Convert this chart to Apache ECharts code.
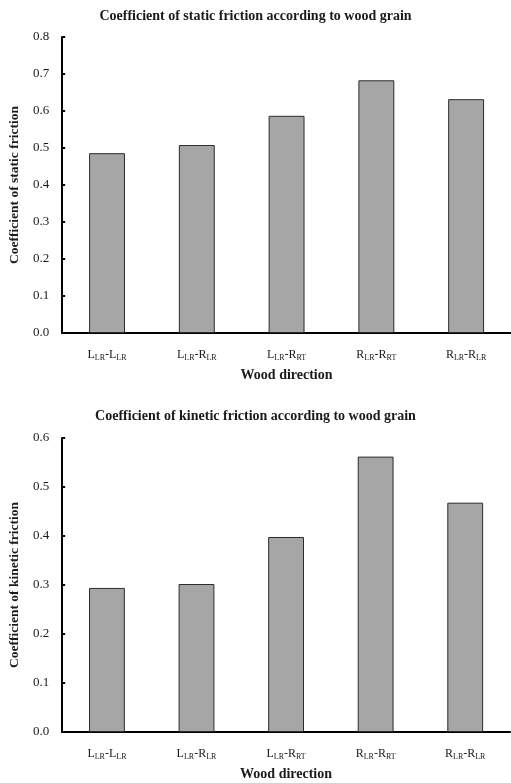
<!DOCTYPE html>
<html>
<head>
<meta charset="utf-8">
<script src="https://cdn.jsdelivr.net/npm/echarts@6/dist/echarts.min.js"></script>
<style>
html,body{margin:0;padding:0;background:#fff;}
#c{width:511px;height:783px;}
</style>
</head>
<body>
<div id="c"></div>
<script>
// Data
const categories = ['L{s|LR}-L{s|LR}', 'L{s|LR}-R{s|LR}', 'L{s|LR}-R{s|RT}', 'R{s|LR}-R{s|RT}', 'R{s|LR}-R{s|LR}'];
const staticFriction = [0.486, 0.508, 0.587, 0.683, 0.632];
const kineticFriction = [0.294, 0.302, 0.398, 0.562, 0.468];
const staticTicks = [0.0, 0.1, 0.2, 0.3, 0.4, 0.5, 0.6, 0.7, 0.8];
const kineticTicks = [0.0, 0.1, 0.2, 0.3, 0.4, 0.5, 0.6];
const titles = ['Coefficient of static friction according to wood grain', 'Coefficient of kinetic friction according to wood grain'];
const yNames = ['Coefficient of static friction', 'Coefficient of kinetic friction'];
const xName = 'Wood direction';

const FONT = '"Liberation Serif", "Times New Roman", serif';
const TXT = '#1a1a1a';

function xAxisCfg(gridIndex) {
  return {
    type: 'category', gridIndex: gridIndex, data: categories,
    name: xName, nameLocation: 'middle', nameGap: 35,
    nameTextStyle: {fontFamily: FONT, fontWeight: 'bold', fontSize: 14, color: TXT},
    axisLine: {lineStyle: {color: '#000', width: 2}},
    axisTick: {show: false},
    axisLabel: {
      interval: 0, margin: 15, fontFamily: FONT, fontSize: 12, color: TXT,
      rich: {
        s: {fontFamily: FONT, fontSize: 8, color: TXT, verticalAlign: 'bottom', lineHeight: 14, padding: [4, 0, 0, 0]}
      }
    }
  };
}
function yAxisCfg(gridIndex, ticks, nameIdx) {
  return {
    type: 'value', gridIndex: gridIndex,
    min: ticks[0], max: ticks[ticks.length - 1], interval: ticks[1] - ticks[0],
    name: yNames[nameIdx], nameLocation: 'middle', nameGap: 40, nameRotate: 90,
    nameTextStyle: {fontFamily: FONT, fontWeight: 'bold', fontSize: 13.5, color: TXT},
    axisLine: {show: true, lineStyle: {color: '#000', width: 2}},
    axisTick: {show: true, inside: true, length: 3, lineStyle: {color: '#000', width: 2}},
    splitLine: {show: false},
    axisLabel: {margin: 13, fontFamily: FONT, fontSize: 13, color: TXT,
      formatter: v => v.toFixed(1)}
  };
}
const barStyle = {color: '#a6a6a6', borderColor: '#2b2b2b', borderWidth: 1};

const chart = echarts.init(document.getElementById('c'));
chart.setOption({
  animation: false,
  backgroundColor: '#fff',
  title: [
    {text: titles[0], left: 'center', top: 4, textStyle: {fontFamily: FONT, fontWeight: 'bold', fontSize: 14, color: TXT}},
    {text: titles[1], left: 'center', top: 404, textStyle: {fontFamily: FONT, fontWeight: 'bold', fontSize: 14, color: TXT}}
  ],
  grid: [
    {left: 62, top: 37, width: 453, height: 296},
    {left: 61, top: 438, width: 449, height: 294}
  ],
  xAxis: [xAxisCfg(0), xAxisCfg(1)],
  yAxis: [yAxisCfg(0, staticTicks, 0), yAxisCfg(1, kineticTicks, 1)],
  series: [
    {type: 'bar', xAxisIndex: 0, yAxisIndex: 0, data: staticFriction, barWidth: '40%', itemStyle: barStyle},
    {type: 'bar', xAxisIndex: 1, yAxisIndex: 1, data: kineticFriction, barWidth: '40%', itemStyle: barStyle}
  ]
});
</script>
</body>
</html>
